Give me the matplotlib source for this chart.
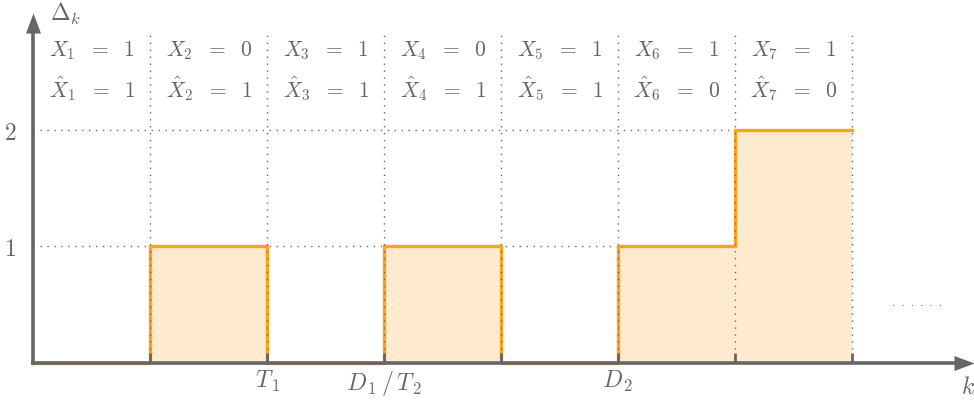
import numpy as np
import matplotlib.pyplot as plt

plt.rcParams['mathtext.fontset'] = 'cm'
plt.rcParams['font.family'] = 'DejaVu Serif'

# data
k_edges = [1, 2, 3, 4, 5, 6, 7]
delta = [1, 0, 1, 0, 1, 2, 2]     # value on [k, k+1), last repeated for step end
x_true = [1, 0, 1, 0, 1, 1, 1]
x_hat = [1, 1, 1, 1, 1, 0, 0]
tick_pos = [2, 3, 5]
tick_lab = [r'$T_{\,1}$', r'$D_{\,1}\,/\,T_{\,2}$', r'$D_{\,2}$']

grey = '#666666'
orange = '#ffa31a'
fill = '#feebcf'
fs = 15.5

fig = plt.figure(figsize=(9.74, 4.02), dpi=100)
ax = fig.add_axes([0, 0, 1, 1])
ax.set_xlim(-0.282, 8.04)
ax.set_ylim(-0.327, 3.124)

# shaded area and step
ax.fill_between(k_edges, delta, step='post', color=fill, lw=0, zorder=2)
ax.step([0] + k_edges, [0] + delta, where='post', color=orange, lw=2.4, zorder=3)

# dotted grid
for k in k_edges:
    ax.plot([k, k], [0, 2.83], ls=(0, (1, 4)), color=grey, lw=1.0, zorder=4)
for y in [1, 2]:
    ax.plot([0, 7], [y, y], ls=(0, (1, 4)), color=grey, lw=1.0, zorder=1)

# labels in each slot
for i in range(len(x_true)):
    ax.text(i + 0.5, 2.69, r'$X_{%d}\ \;=\ \;%d$' % (i + 1, x_true[i]), ha='center', va='center',
            color=grey, fontsize=fs)
    ax.text(i + 0.5, 2.36, r'$\hat{X}_{%d}\ \;=\ \;%d$' % (i + 1, x_hat[i]), ha='center', va='center',
            color=grey, fontsize=fs)

# axes with arrows
for s in ['top', 'right']:
    ax.spines[s].set_visible(False)
ax.spines['left'].set_position(('data', 0))
ax.spines['bottom'].set_position(('data', 0))
ax.spines['left'].set_bounds(0, 2.85)
ax.spines['bottom'].set_bounds(0, 7.9)
for s in ['left', 'bottom']:
    ax.spines[s].set_color(grey)
    ax.spines[s].set_linewidth(2.6)
    ax.spines[s].set_zorder(5)
head_r = [(-10, -7.5), (-10, 7.5), (10, 0)]
head_u = [(-7.5, -10), (7.5, -10), (0, 10)]
ax.plot(7.955, 0, marker=head_r, ms=14.4, color=grey, mew=0, clip_on=False, zorder=6)
ax.plot(0, 2.92, marker=head_u, ms=14.4, color=grey, mew=0, clip_on=False, zorder=6)

ax.set_xticks(k_edges)
ax.set_xticklabels(['' if k not in tick_pos else tick_lab[tick_pos.index(k)] for k in k_edges])
ax.tick_params(axis='x', direction='in', length=7, width=2, color=grey, labelcolor=grey,
               labelsize=fs + 1.5, pad=4)
ax.xaxis.set_zorder(6)
ax.set_yticks([1, 2])
ax.set_yticklabels([r'$1$', r'$2$'])
ax.tick_params(axis='y', length=0, labelcolor=grey, labelsize=fs + 1.5, pad=12)

ax.text(0.145, 3.0, r'$\Delta_k$', color=grey, fontsize=fs + 1.5, va='center', ha='left')
ax.text(7.985, -0.206, r'$k$', color=grey, fontsize=fs + 1.5, va='center', ha='center')
ax.text(7.55, 0.52, '.  .  .  .  .  .', color=grey, fontsize=7, va='center', ha='center')

fig.savefig('out.png', dpi=100)
